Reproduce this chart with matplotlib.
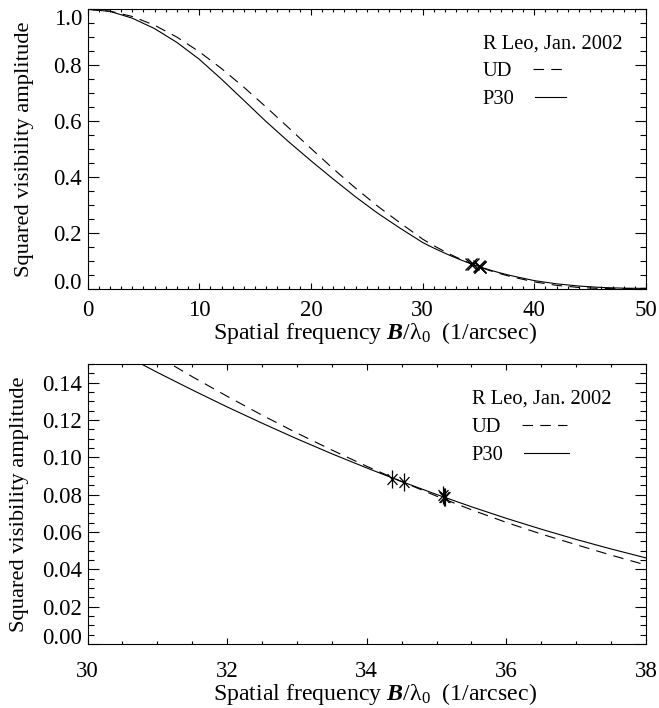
import numpy as np
import matplotlib.pyplot as plt
from matplotlib.path import Path
from matplotlib.lines import Line2D
from matplotlib.ticker import MultipleLocator

plt.rcParams['font.family'] = ['Liberation Serif', 'DejaVu Serif']
plt.rcParams['mathtext.fontset'] = 'custom'
plt.rcParams['mathtext.rm'] = 'Liberation Serif'
plt.rcParams['mathtext.it'] = 'Liberation Serif:italic'
plt.rcParams['mathtext.bf'] = 'Liberation Serif:bold'
plt.rcParams['mathtext.bfit'] = 'Liberation Serif:bold:italic'

# ── Model curves ─────────────────────────────────────────────────────────────
freq = [0, 2, 4, 6, 8, 10, 12, 14, 16, 18, 20, 22, 24, 26, 28,
        30, 30.5, 31, 31.5, 32, 32.5, 33, 33.5, 34, 34.5, 35, 35.5, 36, 36.5,
        37, 37.5, 38, 40, 42, 44, 46, 48, 50]

v2_ud = [1.0000, 0.9935, 0.9743, 0.9429, 0.9005, 0.8482, 0.7877, 0.7209,
         0.6497, 0.5761, 0.5020, 0.4293, 0.3597, 0.2946, 0.2352,
         0.1775, 0.1656, 0.1542, 0.1432, 0.1327, 0.1226, 0.1130, 0.1039,
         0.0952, 0.0870, 0.0792, 0.0719, 0.0651, 0.0589, 0.0532, 0.0476,
         0.0423, 0.0244, 0.0120, 0.0044, 0.0007, 0.0001, 0.0015]

v2_p30 = [1.0000, 0.9925, 0.9683, 0.9309, 0.8815, 0.8212, 0.7497, 0.6739,
          0.5977, 0.5261, 0.4580, 0.3923, 0.3287, 0.2696, 0.2162,
          0.1655, 0.1553, 0.1455, 0.1361, 0.1270, 0.1183, 0.1099, 0.1019,
          0.0943, 0.0870, 0.0801, 0.0735, 0.0673, 0.0615, 0.0560, 0.0509,
          0.0461, 0.0290, 0.0175, 0.0095, 0.0045, 0.0020, 0.0010]

# ── Measurements (R Leo, Jan. 2002) ──────────────────────────────────────────
obs_freq = [34.36, 34.53, 35.09, 35.11, 35.12]
obs_v2 = [0.0882, 0.0867, 0.0797, 0.0790, 0.0786]

# IDL-like asterisk: vertical bar + X
asterisk = Path([(0, -1), (0, 1), (-0.55, -0.6), (0.55, 0.6), (-0.55, 0.6), (0.55, -0.6)],
                [Path.MOVETO, Path.LINETO, Path.MOVETO, Path.LINETO, Path.MOVETO, Path.LINETO])

LW = 0.8
DASH = (0, (9.5, 6.5))
FS_TICK = 16.5
FS_LEG = 14.8
FS_LAB = 16.2
FS_XLAB = 17.2
xlabel = r'Spatial frequency $\mathbfit{B}$/λ$_0$  (1/arcsec)'


def style_axes(ax, xmaj, xmin, ymaj, ymin, xpad, ylabpad):
    ax.xaxis.set_major_locator(MultipleLocator(xmaj))
    ax.xaxis.set_minor_locator(MultipleLocator(xmin))
    ax.yaxis.set_major_locator(MultipleLocator(ymaj))
    ax.yaxis.set_minor_locator(MultipleLocator(ymin))
    ax.tick_params(which='both', direction='in', top=True, right=True, width=0.8,
                   labelsize=FS_TICK)
    ax.tick_params(axis='x', which='major', length=4, pad=xpad)
    ax.tick_params(axis='x', which='minor', length=2)
    ax.tick_params(axis='y', which='major', length=8, pad=4)
    ax.tick_params(axis='y', which='minor', length=4)
    for sp in ax.spines.values():
        sp.set_linewidth(0.8)
    ax.set_xlabel(xlabel, fontsize=FS_XLAB, labelpad=-1)
    ax.xaxis.label.set_x(0.514)
    ax.set_ylabel('Squared visibility amplitude', fontsize=FS_LAB, labelpad=ylabpad)


def add_legend(ax, anchor, hlen):
    handles = [Line2D([], [], color='black', lw=LW, ls=DASH),
               Line2D([], [], color='black', lw=LW)]
    leg = ax.legend(handles, ['UD', 'P30'], title='R Leo, Jan. 2002',
                    loc='upper left', bbox_to_anchor=anchor, borderaxespad=0,
                    borderpad=0, frameon=False, markerfirst=False,
                    handlelength=hlen, handletextpad=1.0, labelspacing=0.42,
                    fontsize=FS_LEG, title_fontsize=FS_LEG, alignment='left')
    # labels left-aligned, handle after the label
    for col in leg._legend_handle_box.get_children():
        col.align = 'left'
    return leg


fig = plt.figure(figsize=(6.59, 7.08), dpi=100)
ax1 = fig.add_axes([0.1328, 0.5922, 0.8475, 0.3947])
ax2 = fig.add_axes([0.1328, 0.0904, 0.8475, 0.3955])

# Panel 1: full range
ax1.plot(freq, v2_ud, color='black', lw=LW, ls=DASH)
ax1.plot(freq, v2_p30, color='black', lw=LW)
ax1.plot(obs_freq, obs_v2, ls='none', marker='x', ms=8, mew=1.0, color='black')
ax1.set_xlim(0, 50)
ax1.set_ylim(0, 1.0)
style_axes(ax1, 10, 1, 0.2, 0.05, xpad=8.2, ylabpad=14)
ax1.yaxis.set_major_formatter(plt.FormatStrFormatter('%.1f'))
add_legend(ax1, (0.708, 0.911), 1.5)

# Panel 2: zoom around the measurements
ax2.plot(freq, v2_ud, color='black', lw=LW, ls=DASH)
ax2.plot(freq, v2_p30, color='black', lw=LW)
ax2.plot(obs_freq, obs_v2, ls='none', marker=asterisk, ms=13, mew=0.9, color='black')
ax2.set_xlim(30, 38)
ax2.set_ylim(0, 0.15)
style_axes(ax2, 2, 0.5, 0.02, 0.005, xpad=12.5, ylabpad=9.5)
ax2.yaxis.set_major_formatter(plt.FormatStrFormatter('%.2f'))
add_legend(ax2, (0.688, 0.907), 2.2)

# end labels pulled inside the axis range (as in the original)
fig.canvas.draw()
for ax in (ax1, ax2):
    lo, hi = ax.get_ylim()
    for tick in ax.yaxis.get_major_ticks():
        v = tick.get_loc()
        if abs(v - lo) < 1e-9:
            tick.label1.set_va('baseline')
        elif abs(v - hi) < 1e-9:
            tick.label1.set_va('top')

fig.savefig('out.png', dpi=100)
